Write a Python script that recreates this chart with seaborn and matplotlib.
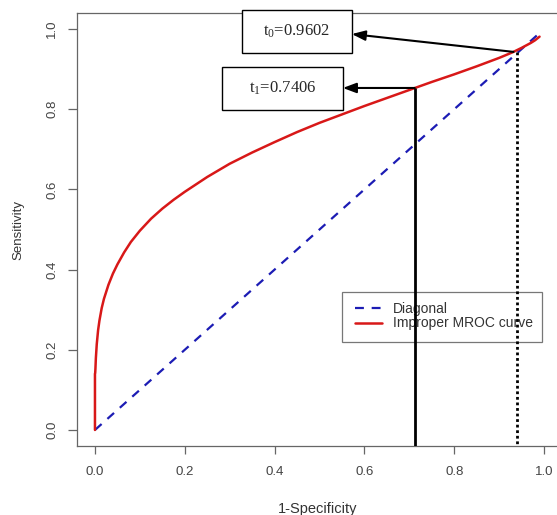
import matplotlib
matplotlib.use("Agg")
import matplotlib.pyplot as plt
from matplotlib.patches import Rectangle
from matplotlib.lines import Line2D
import seaborn as sns
import pandas as pd

# ---- data ----
fpr = [0, 0, 0.0005, 0.001, 0.002, 0.004, 0.007, 0.01, 0.015, 0.02, 0.03,
       0.04, 0.05, 0.065, 0.08, 0.1, 0.125, 0.15, 0.175, 0.2, 0.25, 0.3,
       0.35, 0.4, 0.45, 0.5, 0.55, 0.6, 0.65, 0.7, 0.75, 0.8, 0.85, 0.9,
       0.93, 0.95, 0.97, 0.98, 0.99]
tpr = [0, 0.14, 0.142, 0.152, 0.179, 0.214, 0.249, 0.273, 0.304, 0.327, 0.362,
       0.390, 0.413, 0.443, 0.469, 0.497, 0.527, 0.552, 0.574, 0.594, 0.631, 0.664,
       0.692, 0.718, 0.743, 0.766, 0.787, 0.808, 0.828, 0.848, 0.868, 0.887, 0.907, 0.928,
       0.942, 0.953, 0.965, 0.972, 0.981]
diag_x = [0, 0.99]
diag_y = [0, 0.99]
t0_label = "0.9602"
t1_label = "0.7406"
t0_point = (0.932, 0.943)
t1_point = (0.712, 0.853)
x_ticks = [0.0, 0.2, 0.4, 0.6, 0.8, 1.0]
y_ticks = [0.0, 0.2, 0.4, 0.6, 0.8, 1.0]
legend_labels = ["Diagonal", "Improper MROC curve"]

sns.set_style("white")
plt.rcParams["font.family"] = ["Liberation Sans", "DejaVu Sans"]
plt.rcParams["mathtext.fontset"] = "custom"
plt.rcParams["mathtext.rm"] = "Liberation Serif"

W, H = 557, 515
fig = plt.figure(figsize=(W / 100, H / 100), dpi=100)
L, R, T, B = 77, 562, 13, 446
ax = fig.add_axes([L / W, 1 - B / H, (R - L) / W, (B - T) / H])

curve_df = pd.DataFrame({"x": fpr, "y": tpr})
diag_df = pd.DataFrame({"x": diag_x, "y": diag_y})

red = "#d81818"
blue = "#1c1cb4"
sns.lineplot(data=diag_df, x="x", y="y", ax=ax, color=blue, lw=1.6,
             sort=False, estimator=None, zorder=2)
ax.lines[-1].set_dashes((4, 3.5))
sns.lineplot(data=curve_df, x="x", y="y", ax=ax, color=red, lw=1.8,
             sort=False, estimator=None, zorder=2.1)

ax.set_xlim(-0.04, 1.04)
ax.set_ylim(-0.04, 1.04)
ax.set_xticks(x_ticks)
ax.set_yticks(y_ticks)
ax.set_xticklabels([f"{v:.1f}" for v in x_ticks])
ax.set_yticklabels([f"{v:.1f}" for v in y_ticks])
for s in ax.spines.values():
    s.set_color("#666666")
    s.set_linewidth(0.9)
ax.tick_params(axis="x", direction="out", length=6, width=0.9, color="#666666",
               pad=8.5, labelsize=9.5, labelcolor="#444444", bottom=True)
ax.tick_params(axis="y", direction="out", length=6.5, width=0.9, color="#666666",
               pad=7, labelsize=9.5, labelcolor="#444444", left=True)
for lab in ax.get_yticklabels():
    lab.set_rotation(90)
    lab.set_va("center")
    lab.set_ha("right")

ax.set_xlabel("1-Specificity", fontsize=10.5, color="#333333", va="center")
ax.set_ylabel("Sensitivity", fontsize=9.5, color="#333333", va="center")
ax.xaxis.set_label_coords((318 - L) / (R - L), (B - 509) / (B - T))
ax.yaxis.set_label_coords((18 - L) / (R - L), 0.5)

# legend box
ax.add_patch(Rectangle(((342.3 - L) / (R - L), (B - 341.7) / (B - T)),
                       200 / (R - L), 50 / (B - T), transform=ax.transAxes,
                       facecolor="white", edgecolor="#777777", lw=0.9, zorder=1.5))
handles = [Line2D([], [], color=blue, lw=1.6, dashes=(4, 3.5)),
           Line2D([], [], color=red, lw=1.8)]
leg = ax.legend(handles, legend_labels, loc="upper left",
                bbox_to_anchor=(355 / W, 1 - 302 / H), bbox_transform=fig.transFigure,
                frameon=False, borderpad=0, borderaxespad=0, handlelength=1.95,
                handletextpad=0.8, labelspacing=0.03, fontsize=10)
for t in leg.get_texts():
    t.set_color("#333333")
leg.set_zorder(1.6)

# vertical reference lines
ax.plot([t1_point[0], t1_point[0]], [t1_point[1], -0.04], color="black", lw=2.0, zorder=3,
        solid_capstyle="butt")
ax.plot([t0_point[0] + 0.007, t0_point[0] + 0.007], [t0_point[1], -0.04], color="black",
        lw=2.0, ls=(0, (1, 1)), zorder=3)

# annotation boxes
box_kw = dict(facecolor="white", edgecolor="black", lw=1.0, clip_on=False, zorder=4)
b0 = (0.3276, 0.940, 0.572 - 0.3276, 1.0475 - 0.940)
b1 = (0.284, 0.7975, 0.552 - 0.284, 0.905 - 0.7975)
ax.add_patch(Rectangle((b0[0], b0[1]), b0[2], b0[3], **box_kw))
ax.add_patch(Rectangle((b1[0], b1[1]), b1[2], b1[3], **box_kw))
ax.text(b0[0] + b0[2] / 2, b0[1] + b0[3] / 2, r"$\mathregular{t_0}$=" + t0_label,
        ha="center", va="center", fontsize=12, family="Liberation Serif",
        zorder=5, clip_on=False)
ax.text(b1[0] + b1[2] / 2, b1[1] + b1[3] / 2, r"$\mathregular{t_1}$=" + t1_label,
        ha="center", va="center", fontsize=12, family="Liberation Serif",
        zorder=5, clip_on=False)

arrow_kw = dict(arrowstyle="-|>,head_length=0.8,head_width=0.3", color="black",
                lw=1.5, shrinkA=0, shrinkB=0)
ax.annotate("", xy=(b0[0] + b0[2], 0.9875), xytext=t0_point,
            arrowprops=arrow_kw, zorder=4, annotation_clip=False)
ax.annotate("", xy=(b1[0] + b1[2], t1_point[1]), xytext=t1_point,
            arrowprops=arrow_kw, zorder=4, annotation_clip=False)

fig.savefig("out.png", dpi=100)
